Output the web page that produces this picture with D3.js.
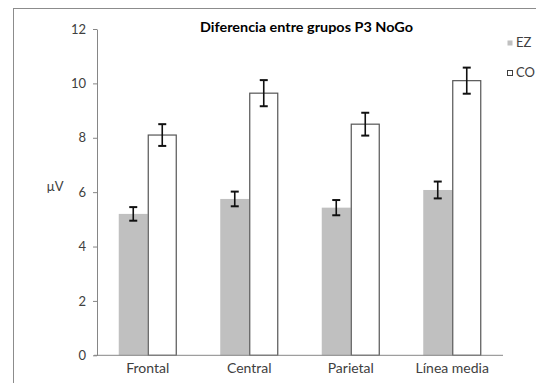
<!DOCTYPE html>
<html>
<head>
<meta charset="utf-8">
<script src="https://cdn.jsdelivr.net/npm/d3@7"></script>
<style>
    body { margin: 0; background: #fff; }
    svg text { font-family: Lato, "Open Sans", sans-serif; fill: #404040; }
</style>
</head>
<body>
<div id="chart"></div>
<script>
var categories = ["Frontal", "Central", "Parietal", "Línea media"];
var seriesNames = ["EZ", "CO"];
var ezValues = [5.2, 5.75, 5.43, 6.08];
var ezErrors = [0.25, 0.27, 0.28, 0.31];
var coValues = [8.1, 9.64, 8.5, 10.1];
var coErrors = [0.4, 0.48, 0.42, 0.48];
var yTicks = [0, 2, 4, 6, 8, 10, 12];

class BarChartCreator {
    constructor(element) {
        this.width = 536;
        this.height = 383;
        this.margin = { left: 97, right: 503, top: 29, bottom: 355.3 };
        this.wrapperElement = d3.select(element);
        this.rows = categories.map((c, i) => ({
            category: c,
            values: [
                { series: "EZ", value: ezValues[i], err: ezErrors[i] },
                { series: "CO", value: coValues[i], err: coErrors[i] }
            ]
        }));
        return this;
    }

    create() {
        this.canvas = this.wrapperElement.append("svg")
            .attr("width", this.width)
            .attr("height", this.height);

        // chart frame, runs off the right and bottom edge
        this.canvas.append("rect")
            .attr("x", 13.5).attr("y", 8.5)
            .attr("width", 560).attr("height", 400)
            .attr("fill", "none")
            .attr("stroke", "#8c8c8c");

        this.x0 = d3.scaleBand().domain(categories)
            .range([this.margin.left, this.margin.right]);
        this.x1 = d3.scaleBand().domain(seriesNames)
            .range([0, this.x0.bandwidth()])
            .paddingOuter(0.75);
        this.y = d3.scaleLinear().domain([0, 12])
            .range([this.margin.bottom, this.margin.top]);

        this.addBars();
        this.addAxes();
        this.addTitle();
        this.addLegend();
        return this;
    }

    addBars() {
        var groups = this.canvas.selectAll(".group")
            .data(this.rows)
            .enter().append("g")
            .attr("class", "group")
            .attr("transform", (d) => "translate(" + this.x0(d.category) + ",0)");

        groups.selectAll("rect")
            .data((d) => d.values)
            .enter().append("rect")
            .attr("x", (d) => this.x1(d.series) + (d.series === "CO" ? 0.5 : 0))
            .attr("y", (d) => this.y(d.value))
            .attr("width", (d) => this.x1.bandwidth() - (d.series === "CO" ? 1 : 0))
            .attr("height", (d) => this.y(0) - this.y(d.value))
            .attr("fill", (d) => d.series === "EZ" ? "#c0c0c0" : "#ffffff")
            .attr("stroke", (d) => d.series === "EZ" ? "none" : "#555555")
            .attr("stroke-width", 1.2);

        // error bars
        var err = groups.selectAll(".err")
            .data((d) => d.values)
            .enter().append("g")
            .attr("class", "err")
            .attr("stroke", "#111")
            .attr("stroke-width", 1.6);
        var cx = (d) => this.x1(d.series) + this.x1.bandwidth() / 2;
        err.append("line")
            .attr("x1", cx).attr("x2", cx)
            .attr("y1", (d) => this.y(d.value + d.err))
            .attr("y2", (d) => this.y(d.value - d.err));
        [1, -1].forEach((s) => {
            err.append("line")
                .attr("x1", (d) => cx(d) - 4).attr("x2", (d) => cx(d) + 4)
                .attr("y1", (d) => this.y(d.value + s * d.err))
                .attr("y2", (d) => this.y(d.value + s * d.err))
                .attr("stroke-width", 2);
        });
    }

    addAxes() {
        var yAxis = this.canvas.append("g")
            .attr("transform", "translate(" + this.margin.left + ",0)")
            .call(d3.axisLeft(this.y).tickValues(yTicks).tickSize(4).tickSizeOuter(0).tickPadding(7));
        yAxis.select(".domain").attr("stroke", "#868686");
        yAxis.selectAll(".tick line").attr("stroke", "#868686");
        yAxis.selectAll("text").attr("font-size", "13px").attr("fill", "#404040");

        this.canvas.append("line")
            .attr("x1", this.margin.left - 3).attr("x2", this.margin.right)
            .attr("y1", this.y(0)).attr("y2", this.y(0))
            .attr("stroke", "#868686");

        var xAxis = this.canvas.append("g")
            .attr("transform", "translate(0," + this.y(0) + ")")
            .call(d3.axisBottom(this.x0).tickSize(0).tickPadding(8));
        xAxis.select(".domain").remove();
        xAxis.selectAll("text").attr("font-size", "14px").attr("fill", "#404040");

        this.canvas.append("text")
            .attr("x", 55).attr("y", 191)
            .attr("text-anchor", "middle")
            .attr("font-size", "13px")
            .text("µV");
    }

    addTitle() {
        this.canvas.append("text")
            .attr("x", 306.5).attr("y", 32)
            .attr("text-anchor", "middle")
            .attr("font-size", "14px")
            .attr("font-weight", "bold")
            .attr("textLength", 213)
            .attr("lengthAdjust", "spacingAndGlyphs")
            .style("fill", "#000")
            .text("Diferencia entre grupos P3 NoGo");
    }

    addLegend() {
        var legend = this.canvas.selectAll(".legend")
            .data(seriesNames)
            .enter().append("g")
            .attr("class", "legend")
            .attr("transform", (d, i) => "translate(507," + (40 + i * 30) + ")");
        legend.append("rect")
            .attr("x", 0.5).attr("y", 0.5)
            .attr("width", 5).attr("height", 5)
            .attr("fill", (d) => d === "EZ" ? "#c0c0c0" : "#fff")
            .attr("stroke", (d) => d === "EZ" ? "none" : "#404040");
        legend.append("text")
            .attr("x", 9).attr("y", 6.5)
            .attr("font-size", "13px")
            .text((d) => d);
    }
}

new BarChartCreator("#chart").create();
</script>
</body>
</html>
